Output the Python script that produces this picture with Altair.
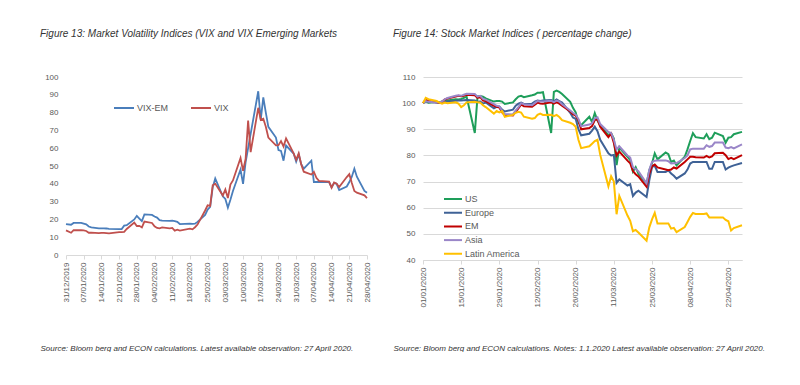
import altair as alt
import pandas as pd

FONT = "Liberation Sans"

# ---------------- Figure 13 data ----------------
LEFT_TITLE = "Figure 13: Market Volatility Indices (VIX and VIX Emerging Markets"
LEFT_SOURCE = "Source: Bloom berg and ECON calculations. Latest available observation: 27 April 2020."
LEFT_SERIES = ["VIX-EM", "VIX"]
LEFT_COLORS = ["#4a7ebb", "#c0504d"]

LEFT_DATES = [
    "2019-12-31", "2020-01-02", "2020-01-03", "2020-01-06", "2020-01-07", "2020-01-08", "2020-01-09",
    "2020-01-10", "2020-01-13", "2020-01-14", "2020-01-15", "2020-01-16", "2020-01-17", "2020-01-21",
    "2020-01-22", "2020-01-23", "2020-01-24", "2020-01-27", "2020-01-28", "2020-01-29", "2020-01-30",
    "2020-01-31",
    "2020-02-03", "2020-02-04", "2020-02-05", "2020-02-06", "2020-02-07", "2020-02-10", "2020-02-11",
    "2020-02-12", "2020-02-13", "2020-02-14", "2020-02-18", "2020-02-19", "2020-02-20", "2020-02-21",
    "2020-02-24", "2020-02-25", "2020-02-26", "2020-02-27", "2020-02-28",
    "2020-03-02", "2020-03-03", "2020-03-04", "2020-03-05", "2020-03-06", "2020-03-09", "2020-03-10",
    "2020-03-11", "2020-03-12", "2020-03-13", "2020-03-16", "2020-03-17", "2020-03-18", "2020-03-19",
    "2020-03-20", "2020-03-23", "2020-03-24", "2020-03-25", "2020-03-26", "2020-03-27", "2020-03-30",
    "2020-03-31",
    "2020-04-01", "2020-04-02", "2020-04-03", "2020-04-06", "2020-04-07", "2020-04-08", "2020-04-09",
    "2020-04-13", "2020-04-14", "2020-04-15", "2020-04-16", "2020-04-17", "2020-04-20", "2020-04-21",
    "2020-04-22", "2020-04-23", "2020-04-24", "2020-04-27", "2020-04-28",
]

VIX_EM = [
    17.4, 17.0, 18.0, 18.0, 17.6, 17.2, 16.0, 15.5, 15.0, 15.0, 15.0, 14.9, 14.7, 14.5, 14.6, 16.5,
    16.8, 20.0, 22.0, 20.5, 19.0, 22.8,
    22.5, 21.6, 21.0, 19.6, 19.3, 19.2, 19.3, 19.0, 18.6, 17.4, 17.6, 17.5, 17.6, 18.6, 22.5, 25.5,
    27.0, 38.0, 43.0,
    33.0, 31.5, 26.6, 31.0, 36.0, 48.0, 40.0, 52.0, 60.0, 68.0, 92.0, 76.0, 88.5, 80.0, 72.0, 66.0,
    59.0, 58.5, 53.0, 61.5, 57.0, 52.5,
    56.5, 51.0, 48.5, 53.0, 41.0, 41.0, 41.0, 41.0, 38.0, 40.5, 40.0, 36.5, 38.5, 41.0, 44.0, 48.5,
    44.0, 36.0, 35.0,
]

VIX = [
    13.8, 12.5, 14.0, 13.9, 13.8, 13.5, 12.5, 12.6, 12.3, 12.4, 12.4, 12.3, 12.1, 12.9, 12.9, 13.0,
    14.6, 18.2, 16.3, 16.4, 15.5, 18.8,
    18.0, 16.1, 15.2, 15.0, 15.5, 15.0, 15.2, 13.7, 14.2, 13.7, 14.8, 14.4, 15.6, 17.1, 25.0, 27.9,
    27.6, 39.2, 40.1,
    33.4, 36.8, 32.0, 39.6, 41.9, 54.5, 47.3, 53.9, 75.5, 57.8, 82.7, 75.9, 76.5, 72.0, 66.0, 61.6,
    61.7, 64.0, 61.0, 65.5, 57.1, 53.5,
    57.1, 50.9, 46.8, 45.2, 46.7, 43.4, 41.7, 41.2, 37.8, 40.8, 40.1, 38.2, 43.8, 45.4, 40.5, 36.0,
    35.0, 33.5, 32.0,
]

LEFT_TICKS = [
    "2019-12-31", "2020-01-07", "2020-01-14", "2020-01-21", "2020-01-28", "2020-02-04", "2020-02-11",
    "2020-02-18", "2020-02-25", "2020-03-03", "2020-03-10", "2020-03-17", "2020-03-24", "2020-03-31",
    "2020-04-07", "2020-04-14", "2020-04-21", "2020-04-28",
]
LEFT_Y_TICKS = [0, 10, 20, 30, 40, 50, 60, 70, 80, 90, 100]

# ---------------- Figure 14 data ----------------
RIGHT_TITLE = "Figure 14: Stock Market Indices ( percentage change)"
RIGHT_SOURCE = ("Source: Bloom berg and ECON calculations. Notes: 1.1.2020 "
                "Latest available observation: 27 April 2020.")
RIGHT_SERIES = ["US", "Europe", "EM", "Asia", "Latin America"]
RIGHT_COLORS = ["#1e9e5a", "#3f6296", "#c00000", "#9a86c8", "#ffc000"]

RIGHT_DATES = [
    "2020-01-01", "2020-01-02", "2020-01-03", "2020-01-06", "2020-01-07", "2020-01-08", "2020-01-09",
    "2020-01-10", "2020-01-13", "2020-01-14", "2020-01-15", "2020-01-16", "2020-01-17", "2020-01-20",
    "2020-01-21", "2020-01-22", "2020-01-23", "2020-01-24", "2020-01-27", "2020-01-28", "2020-01-29",
    "2020-01-30", "2020-01-31",
    "2020-02-03", "2020-02-04", "2020-02-05", "2020-02-06", "2020-02-07", "2020-02-10", "2020-02-11",
    "2020-02-12", "2020-02-13", "2020-02-14", "2020-02-17", "2020-02-18", "2020-02-19", "2020-02-20",
    "2020-02-21", "2020-02-24", "2020-02-25", "2020-02-26", "2020-02-27", "2020-02-28",
    "2020-03-02", "2020-03-03", "2020-03-04", "2020-03-05", "2020-03-06", "2020-03-09", "2020-03-10",
    "2020-03-11", "2020-03-12", "2020-03-13", "2020-03-16", "2020-03-17", "2020-03-18", "2020-03-19",
    "2020-03-20", "2020-03-23", "2020-03-24", "2020-03-25", "2020-03-26", "2020-03-27", "2020-03-30",
    "2020-03-31",
    "2020-04-01", "2020-04-02", "2020-04-03", "2020-04-06", "2020-04-07", "2020-04-08", "2020-04-09",
    "2020-04-10", "2020-04-13", "2020-04-14", "2020-04-15", "2020-04-16", "2020-04-17", "2020-04-20",
    "2020-04-21", "2020-04-22", "2020-04-23", "2020-04-24", "2020-04-27",
]

US = [
    100.0, 100.8, 100.2, 100.5, 100.2, 100.7, 101.2, 101.0, 101.5, 101.4, 101.6, 102.0, 102.4, 88.6,
    102.6, 102.7, 102.5, 101.8, 100.6, 100.8, 100.8, 100.6, 99.7,
    100.3, 101.5, 102.5, 102.8, 102.3, 103.0, 103.3, 104.0, 104.0, 104.2, 88.6, 104.3, 104.8, 104.3,
    103.5, 100.5, 98.2, 96.5, 92.4, 91.6,
    94.8, 92.8, 96.2, 93.3, 91.5, 87.8, 88.5, 86.5, 76.3, 83.0, 79.5, 78.2, 73.8, 75.5, 73.0, 69.2,
    74.3, 77.0, 80.8, 78.5, 81.1, 80.5,
    77.5, 78.0, 76.2, 79.5, 82.3, 85.5, 88.5, 87.0, 86.5, 88.1, 86.2, 86.8, 88.7, 87.4, 84.9, 86.8,
    87.0, 88.1, 89.0,
]
EUROPE = [
    100.0, 100.8, 100.5, 100.2, 100.1, 100.3, 100.6, 100.6, 100.9, 101.0, 101.0, 101.1, 101.2, 101.0,
    100.5, 100.6, 99.8, 100.3, 98.0, 98.6, 98.7, 97.5, 96.8,
    97.5, 99.0, 99.8, 100.2, 99.7, 99.8, 100.6, 101.0, 100.8, 101.0, 101.2, 100.7, 101.4, 100.8,
    100.2, 96.3, 94.5, 94.0, 90.0, 87.7,
    88.3, 89.5, 91.0, 89.3, 86.0, 80.8, 80.0, 80.2, 69.5, 70.8, 68.5, 69.0, 64.5, 65.8, 66.5, 64.1,
    70.5, 75.6, 76.0, 73.7, 73.7, 74.3,
    73.1, 72.2, 71.1, 73.1, 74.6, 76.9, 77.5, 77.5, 77.5, 77.5, 74.9, 74.9, 77.5, 77.5, 74.6, 75.3,
    75.8, 76.2, 77.1,
]
EM = [
    100.0, 101.2, 100.8, 100.3, 100.2, 100.5, 101.4, 101.8, 102.5, 102.8, 102.6, 102.8, 103.2, 103.0,
    102.0, 102.4, 101.0, 100.8, 99.0, 98.6, 98.3, 96.5, 95.5,
    95.3, 96.8, 98.0, 99.5, 98.8, 98.6, 99.4, 100.2, 99.9, 99.8, 100.3, 99.8, 100.4, 99.8, 99.0,
    96.8, 95.8, 95.2, 93.5, 90.0,
    90.5, 91.2, 93.5, 93.8, 91.0, 87.0, 88.3, 84.8, 80.0, 81.5, 78.0, 77.0, 74.0, 72.8, 72.0, 68.0,
    73.0, 75.9, 76.5, 75.4, 74.6, 74.3,
    74.6, 75.4, 75.0, 77.5, 78.5, 79.5, 79.5, 79.3, 79.2, 79.8, 79.2, 79.6, 80.8, 81.0, 80.1, 78.6,
    79.1, 78.6, 80.1,
]
ASIA = [
    100.0, 100.8, 100.5, 100.2, 100.3, 100.6, 101.5, 102.0, 102.8, 103.0, 102.8, 103.2, 103.6, 103.5,
    102.5, 102.8, 101.6, 101.3, 99.6, 99.0, 98.8, 97.0, 95.8,
    95.7, 97.2, 98.5, 100.0, 99.6, 99.2, 100.0, 100.8, 100.6, 100.6, 100.9, 100.4, 101.0, 100.6,
    99.6, 97.2, 96.3, 95.6, 94.0, 91.2,
    91.8, 92.3, 94.2, 94.6, 92.0, 89.0, 88.6, 86.0, 82.3, 83.5, 80.0, 79.2, 75.5, 74.8, 74.0, 69.3,
    74.5, 77.5, 78.0, 78.1, 78.1, 77.8,
    76.9, 77.0, 77.1, 79.0, 80.0, 82.3, 82.6, 82.6, 82.6, 83.9, 83.3, 83.6, 84.9, 84.9, 83.0, 82.8,
    83.2, 82.7, 84.2,
]
LATAM = [
    100.0, 102.0, 101.5, 100.8, 100.2, 99.8, 100.2, 100.0, 100.3, 99.8, 98.5, 99.2, 100.3, 100.5,
    100.3, 100.2, 99.2, 98.5, 96.0, 97.0, 96.5, 97.0, 94.8,
    95.5, 96.3, 96.7, 96.4, 94.8, 94.0, 94.3, 95.5, 96.0, 95.5, 95.6, 95.0, 95.5, 94.7, 93.5, 92.5,
    92.0, 91.0, 86.0, 82.8,
    83.5, 84.5, 85.5, 86.0, 80.2, 68.2, 72.0, 70.0, 57.5, 64.5, 57.0, 55.0, 51.0, 51.5, 50.5, 47.4,
    52.5, 55.5, 58.0, 54.0, 54.0, 54.0,
    52.0, 52.3, 50.7, 52.6, 54.5, 56.5, 58.0, 57.6, 57.6, 57.8, 56.3, 56.3, 56.3, 56.3, 55.3, 54.8,
    51.3, 52.2, 53.3,
]

RIGHT_TICKS = [
    "2020-01-01", "2020-01-15", "2020-01-29", "2020-02-12", "2020-02-26", "2020-03-11",
    "2020-03-25", "2020-04-08", "2020-04-22",
]
RIGHT_Y_TICKS = [40, 50, 60, 70, 80, 90, 100, 110]


def dt(s):
    y, m, d = (int(p) for p in s.split("-"))
    return alt.DateTime(year=y, month=m, date=d)


left_df = pd.DataFrame({
    "date": pd.to_datetime(LEFT_DATES * 2),
    "series": [LEFT_SERIES[0]] * len(LEFT_DATES) + [LEFT_SERIES[1]] * len(LEFT_DATES),
    "value": VIX_EM + VIX,
})

right_values = [US, EUROPE, EM, ASIA, LATAM]
right_df = pd.DataFrame({
    "date": pd.to_datetime(RIGHT_DATES * len(RIGHT_SERIES)),
    "series": [s for s in RIGHT_SERIES for _ in RIGHT_DATES],
    "value": [v for vals in right_values for v in vals],
})

LABEL_COLOR = "#595959"
TEXT_COLOR = "#333333"


def title_params(text, dx):
    return alt.TitleParams(text=text, anchor="start", frame="group", dx=dx, offset=34,
                           fontSize=10, fontStyle="italic", fontWeight="normal",
                           color=TEXT_COLOR, font=FONT)


def x_axis(ticks, source, title_x, title_y):
    return alt.Axis(
        values=[dt(s) for s in ticks], format="%d/%m/%Y", labelAngle=-90, labelFontSize=8,
        labelColor=LABEL_COLOR, labelFont=FONT, labelPadding=3, labelOverlap=False,
        domainColor="#d9d9d9", tickColor="#d9d9d9", tickSize=4, grid=False,
        title=source, titleX=title_x, titleY=title_y, titleAlign="left", titleBaseline="middle",
        titleFontSize=8, titleFontStyle="italic", titleFontWeight="normal", titleColor=TEXT_COLOR,
        titleFont=FONT, titleAngle=0,
    )


left = alt.Chart(left_df).mark_line(strokeWidth=1.8).encode(
    x=alt.X("date:T", scale=alt.Scale(domain=[dt("2019-12-31"), dt("2020-04-28")]),
            axis=x_axis(LEFT_TICKS, LEFT_SOURCE, -26, 93)),
    y=alt.Y("value:Q", scale=alt.Scale(domain=[0, 100]),
            axis=alt.Axis(values=LEFT_Y_TICKS, grid=False, domain=False, ticks=False,
                          labelFontSize=8, labelColor=LABEL_COLOR, labelFont=FONT,
                          labelPadding=8, title=None)),
    color=alt.Color("series:N", scale=alt.Scale(domain=LEFT_SERIES, range=LEFT_COLORS),
                    legend=alt.Legend(orient="none", legendX=47, legendY=20,
                                      direction="horizontal", title=None, symbolType="stroke",
                                      symbolSize=400, symbolStrokeWidth=2, labelFontSize=9,
                                      labelColor=LABEL_COLOR, labelFont=FONT, columnPadding=18,
                                      labelOffset=2)),
    detail="series:N",
).properties(width=301, height=178, title=title_params(LEFT_TITLE, -26))

right = alt.Chart(right_df).mark_line(strokeWidth=2).encode(
    x=alt.X("date:T", scale=alt.Scale(domain=[dt("2020-01-01"), dt("2020-04-27")]),
            axis=x_axis(RIGHT_TICKS, RIGHT_SOURCE, -30, 88)),
    y=alt.Y("value:Q", scale=alt.Scale(domain=[40, 110]),
            axis=alt.Axis(values=RIGHT_Y_TICKS, grid=True, gridColor="#d9d9d9", domain=False,
                          ticks=False, labelFontSize=8, labelColor=LABEL_COLOR, labelFont=FONT,
                          labelPadding=8, title=None)),
    color=alt.Color("series:N", scale=alt.Scale(domain=RIGHT_SERIES, range=RIGHT_COLORS),
                    legend=alt.Legend(orient="none", legendX=20, legendY=116,
                                      direction="vertical", title=None, symbolType="stroke",
                                      symbolSize=324, symbolStrokeWidth=2, labelFontSize=9,
                                      labelColor=LABEL_COLOR, labelFont=FONT, clipHeight=12,
                                      rowPadding=1.7, labelOffset=2)),
).properties(width=319, height=183, title=title_params(RIGHT_TITLE, -30))

chart = alt.hconcat(left, right, spacing=22).resolve_scale(color="independent").properties(
    padding={"left": 32, "top": 21, "right": 0, "bottom": 0},
    background="white",
).configure_view(stroke=None)

chart.save("out.html", embed_options={"renderer": "svg", "actions": False})
